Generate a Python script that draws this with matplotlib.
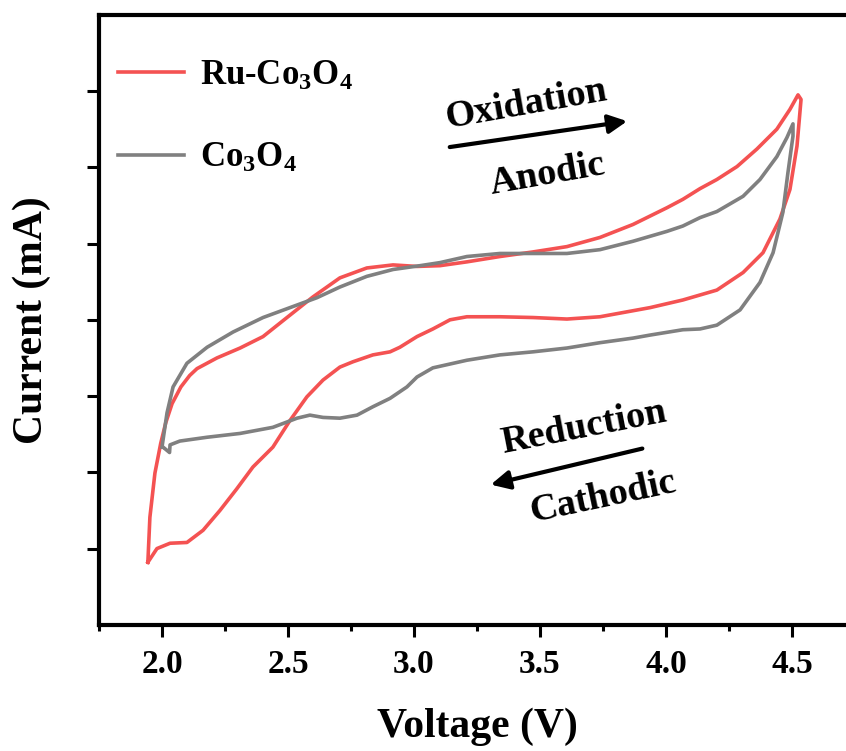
import matplotlib
matplotlib.use("Agg")
import matplotlib.pyplot as plt
from matplotlib.ticker import MultipleLocator

# CV loops, traced in scan order (anodic sweep then cathodic sweep)
ru_v_up = [1.944, 1.952, 1.972, 1.995, 2.015, 2.040, 2.075, 2.110, 2.139, 2.218, 2.310, 2.401, 2.496,
           2.599, 2.706, 2.813, 2.917, 3.012, 3.103, 3.210, 3.341, 3.472, 3.607, 3.738, 3.869, 4.004,
           4.067, 4.135, 4.202, 4.282, 4.361, 4.440, 4.492, 4.524]
ru_i_up = [-3.18, -2.59, -2.01, -1.62, -1.35, -1.10, -0.88, -0.73, -0.64, -0.50, -0.37, -0.22, 0.03,
           0.30, 0.55, 0.68, 0.72, 0.70, 0.71, 0.76, 0.83, 0.89, 0.96, 1.08, 1.25, 1.47,
           1.58, 1.72, 1.84, 2.01, 2.24, 2.50, 2.76, 2.95]
ru_v_down = [4.536, 4.520, 4.492, 4.452, 4.385, 4.306, 4.202, 4.067, 3.937, 3.738, 3.607, 3.472, 3.341,
             3.210, 3.143, 3.075, 3.012, 2.944, 2.905, 2.837, 2.758, 2.706, 2.639, 2.575, 2.508, 2.440,
             2.361, 2.296, 2.230, 2.163, 2.099, 2.032, 1.980, 1.944]
ru_i_down = [2.89, 2.28, 1.71, 1.32, 0.88, 0.62, 0.39, 0.26, 0.16, 0.04, 0.01, 0.03, 0.04,
             0.04, 0.00, -0.12, -0.22, -0.36, -0.42, -0.46, -0.55, -0.62, -0.79, -1.01, -1.32, -1.67,
             -1.93, -2.22, -2.50, -2.76, -2.92, -2.93, -3.00, -3.18]

co_v_up = [2.000, 2.020, 2.044, 2.099, 2.179, 2.282, 2.401, 2.508, 2.615, 2.706, 2.813, 2.917, 3.024,
           3.103, 3.210, 3.341, 3.472, 3.607, 3.738, 3.869, 4.004, 4.067, 4.135, 4.202, 4.306, 4.373,
           4.440, 4.480, 4.504]
co_i_up = [-1.67, -1.22, -0.88, -0.57, -0.36, -0.16, 0.03, 0.16, 0.29, 0.43, 0.57, 0.66, 0.71,
           0.75, 0.83, 0.87, 0.87, 0.87, 0.92, 1.03, 1.16, 1.23, 1.34, 1.42, 1.62, 1.84,
           2.14, 2.39, 2.57]
co_v_down = [4.504, 4.484, 4.464, 4.425, 4.373, 4.294, 4.202, 4.135, 4.067, 3.937, 3.869, 3.738, 3.607,
             3.472, 3.341, 3.210, 3.075, 3.012, 2.972, 2.905, 2.837, 2.774, 2.706, 2.639, 2.587, 2.536,
             2.440, 2.310, 2.179, 2.071, 2.032, 2.030, 2.008]
co_i_down = [2.41, 1.93, 1.41, 0.88, 0.49, 0.13, -0.07, -0.12, -0.13, -0.20, -0.24, -0.30, -0.37,
             -0.42, -0.46, -0.53, -0.63, -0.75, -0.88, -1.03, -1.14, -1.25, -1.29, -1.28, -1.25, -1.29,
             -1.41, -1.49, -1.54, -1.59, -1.64, -1.74, -1.68]

labels = ["Ru-Co$_3$O$_4$", "Co$_3$O$_4$"]
colors = ["#F45252", "#808080"]
x_ticks = [2.0, 2.5, 3.0, 3.5, 4.0, 4.5]

plt.rcParams["font.family"] = "Liberation Serif"
plt.rcParams["font.weight"] = "bold"
plt.rcParams["mathtext.fontset"] = "custom"
plt.rcParams["mathtext.rm"] = "Liberation Serif:bold"
plt.rcParams["mathtext.it"] = "Liberation Serif:bold"
plt.rcParams["mathtext.bf"] = "Liberation Serif:bold"

fig = plt.figure(figsize=(8.46, 7.51), dpi=100)
ax = fig.add_axes([0.117, 0.168, 0.8936, 0.8123])

ax.plot(ru_v_up + ru_v_down, ru_i_up + ru_i_down, color=colors[0], lw=2.6, label=labels[0])
ax.plot(co_v_up + co_v_down, co_i_up + co_i_down, color=colors[1], lw=2.6, label=labels[1])

ax.set_xlim(1.75, 4.75)
ax.set_ylim(-4, 4)
ax.set_xticks(x_ticks)
ax.set_xticklabels([f"{t:.1f}" for t in x_ticks])
ax.xaxis.set_minor_locator(MultipleLocator(0.25))
ax.set_yticks(range(-3, 4))
ax.set_yticklabels([])

for s in ["left", "bottom", "top"]:
    ax.spines[s].set_linewidth(3)
ax.spines["right"].set_visible(False)
ax.tick_params(which="major", direction="out", length=8.5, width=2.2, labelsize=24, pad=9)
ax.tick_params(which="minor", direction="out", length=4.5, width=2.2)

ax.set_xlabel("Voltage (V)", fontsize=30, fontweight="bold", labelpad=20)
ax.set_ylabel("Current (mA)", fontsize=30, fontweight="bold", labelpad=17)

ax.legend(loc="upper left", bbox_to_anchor=(-0.016, 0.978), frameon=False, fontsize=25,
          handlelength=1.9, handletextpad=0.45, labelspacing=1.43)

# direction of the sweep
ax.annotate("", xy=(3.857, 2.61), xytext=(3.131, 2.26),
            arrowprops=dict(arrowstyle="-|>", color="black", lw=3, mutation_scale=28))
ax.text(3.444, 2.83, "Oxidation", fontsize=27.5, rotation=10, ha="center", va="center")
ax.text(3.528, 1.91, "Anodic", fontsize=27.5, rotation=10, ha="center", va="center")

ax.annotate("", xy=(3.294, -2.17), xytext=(3.917, -1.68),
            arrowprops=dict(arrowstyle="-|>", color="black", lw=3, mutation_scale=28))
ax.text(3.675, -1.42, "Reduction", fontsize=27.5, rotation=11, ha="center", va="center")
ax.text(3.75, -2.33, "Cathodic", fontsize=27.5, rotation=12, ha="center", va="center")

plt.savefig("out.png", dpi=100)
